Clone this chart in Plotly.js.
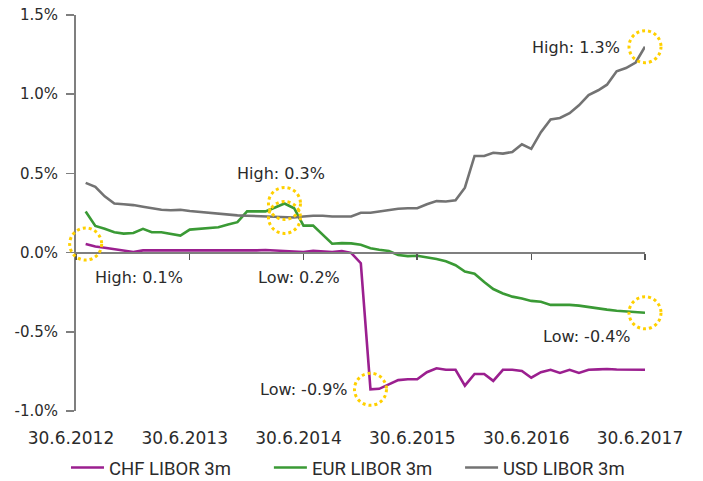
<!DOCTYPE html>
<html>
<head>
<meta charset="utf-8">
<script src="https://cdn.plot.ly/plotly-3.0.1.min.js"></script>
<style>html,body{margin:0;padding:0;background:#fff}#chart{width:703px;height:481px}</style>
</head>
<body>
<div id="chart"></div>
<script>
var dates = [
 '2012-07-31','2012-08-31','2012-09-30','2012-10-31','2012-11-30','2012-12-31',
 '2013-01-31','2013-02-28','2013-03-31','2013-04-30','2013-05-31','2013-06-30','2013-07-31','2013-08-31','2013-09-30','2013-10-31','2013-11-30','2013-12-31',
 '2014-01-31','2014-02-28','2014-03-31','2014-04-30','2014-05-31','2014-06-30','2014-07-31','2014-08-31','2014-09-30','2014-10-31','2014-11-30','2014-12-31',
 '2015-01-31','2015-02-28','2015-03-31','2015-04-30','2015-05-31','2015-06-30','2015-07-31','2015-08-31','2015-09-30','2015-10-31','2015-11-30','2015-12-31',
 '2016-01-31','2016-02-29','2016-03-31','2016-04-30','2016-05-31','2016-06-30','2016-07-31','2016-08-31','2016-09-30','2016-10-31','2016-11-30','2016-12-31',
 '2017-01-31','2017-02-28','2017-03-31','2017-04-30','2017-05-31','2017-06-30'
];
var chf = [
 0.054,0.038,0.031,0.021,0.016,0.004,0.014,0.014,0.013,0.013,
 0.013,0.013,0.013,0.015,0.013,0.011,0.015,0.012,0.014,0.016,
 0.012,0.010,0.008,0.004,0.012,0.010,0.004,0.010,-0.002,-0.067,
 -0.863,-0.860,-0.830,-0.805,-0.800,-0.800,-0.755,-0.730,-0.740,-0.740,
 -0.840,-0.766,-0.766,-0.810,-0.740,-0.740,-0.747,-0.790,-0.755,-0.740,
 -0.760,-0.740,-0.760,-0.740,-0.737,-0.735,-0.738,-0.740,-0.740,-0.740
];
var eur = [
 0.260,0.168,0.150,0.128,0.120,0.124,0.150,0.128,0.128,0.118,
 0.107,0.145,0.150,0.152,0.160,0.177,0.192,0.260,0.260,0.260,
 0.285,0.310,0.280,0.170,0.170,0.115,0.056,0.060,0.058,0.050,
 0.028,0.018,0.010,-0.015,-0.022,-0.020,-0.030,-0.040,-0.055,-0.080,
 -0.120,-0.133,-0.185,-0.230,-0.258,-0.278,-0.290,-0.305,-0.310,-0.330,
 -0.330,-0.330,-0.335,-0.345,-0.353,-0.360,-0.367,-0.372,-0.375,-0.380
];
var usd = [
 0.440,0.415,0.355,0.310,0.305,0.300,0.290,0.280,0.270,0.267,
 0.270,0.263,0.257,0.250,0.245,0.237,0.235,0.233,0.230,0.230,
 0.225,0.222,0.222,0.228,0.233,0.233,0.228,0.228,0.228,0.252,
 0.252,0.260,0.270,0.277,0.280,0.280,0.305,0.325,0.323,0.330,
 0.410,0.610,0.610,0.630,0.625,0.635,0.684,0.655,0.760,0.840,
 0.850,0.880,0.930,0.995,1.025,1.060,1.145,1.165,1.200,1.300
];
var seriesNames = ['CHF LIBOR 3m','EUR LIBOR 3m','USD LIBOR 3m'];
var seriesColors = ['#9b1f8f','#3a9a35','#737373'];
var xRange = ['2012-06-30','2017-06-30'];
var yRange = [-1.0, 1.5];
var xTickVals = ['2012-06-30','2013-06-30','2014-06-30','2015-06-30','2016-06-30','2017-06-30'];
var xTickText = ['30.6.2012','30.6.2013','30.6.2014','30.6.2015','30.6.2016','30.6.2017'];
var yTickVals = [-1.0,-0.5,0.0,0.5,1.0,1.5];
var yTickText = ['-1.0%','-0.5%','0.0%','0.5%','1.0%','1.5%'];
var labelTexts = ['High: 0.1%','High: 0.3%','Low: 0.2%','Low: -0.9%','Low: -0.4%','High: 1.3%'];

var series = [chf, eur, usd];
var legendIds = ['legend','legend2','legend3'];
var traces = series.map(function(s, k){
  return {x: dates, y: s, type: 'scatter', mode: 'lines', name: seriesNames[k],
    legend: legendIds[k],
    line: {color: seriesColors[k], width: 2.6}, hoverinfo: 'skip'};
});

var last = dates.length - 1;
var marks = [
  [chf, 0], [eur, 21], [usd, 21], [chf, 30], [eur, last], [usd, last]
];
var offsets = [
  {xa:'left', xs:7, ys:-33},
  {xa:'center', xs:-3, ys:30},
  {xa:'center', xs:15, ys:-60},
  {xa:'right', xs:-20, ys:0},
  {xa:'right', xs:-12, ys:-24},
  {xa:'right', xs:-23, ys:-1}
];
var t0 = Date.parse(xRange[0]), t1 = Date.parse(xRange[1]);
function xFrac(d){ return (Date.parse(d) - t0) / (t1 - t0); }
function yFrac(v){ return (v - yRange[0]) / (yRange[1] - yRange[0]); }
var shapes = marks.map(function(m){
  return {type:'circle', xref:'paper', yref:'paper', xsizemode:'pixel', ysizemode:'pixel',
    xanchor: xFrac(dates[m[1]]), yanchor: yFrac(m[0][m[1]]), x0:-16, x1:16, y0:-16, y1:16,
    line:{color:'#ffd000', width:3, dash:'dot'}, fillcolor:'rgba(0,0,0,0)', layer:'above'};
});
var annotations = marks.map(function(m, k){
  return {xref:'x', yref:'y', x: dates[m[1]], y: m[0][m[1]], text: labelTexts[k],
    showarrow:false, xanchor: offsets[k].xa, yanchor:'middle',
    xshift: offsets[k].xs, yshift: offsets[k].ys,
    font:{family:'DejaVu Sans', size:16, color:'#2b2b2b'}};
});

function legendAt(x){
  return {orientation:'h', x:x, xanchor:'left', y:-0.144, yanchor:'middle', itemwidth:33,
    font:{family:'Roboto', size:18.5, color:'#2b2b2b'}, bgcolor:'rgba(0,0,0,0)'};
}

var layout = {
  width: 703, height: 481,
  margin: {l:76, r:58, t:15, b:70, autoexpand:false},
  paper_bgcolor:'#fff', plot_bgcolor:'#fff',
  font: {family:'DejaVu Sans', color:'#2b2b2b'},
  showlegend: true,
  legend: legendAt(-0.0176),
  legend2: legendAt(0.339),
  legend3: legendAt(0.675),
  xaxis: {type:'date', range:xRange, tickvals:xTickVals, ticktext:xTickText,
    anchor:'free', position: yFrac(0),
    showline:true, linecolor:'#7f7f7f', linewidth:2, ticks:'outside', ticklen:6,
    tickwidth:1.5, tickcolor:'#555',
    showgrid:false, zeroline:false, fixedrange:true, automargin:false,
    tickfont:{size:17, color:'#2b2b2b'}, ticklabelshift:-5, ticklabelstandoff:164},
  yaxis: {range:yRange, tickvals:yTickVals, ticktext:yTickText, showline:true,
    linecolor:'#7f7f7f', linewidth:2, ticks:'outside', ticklen:8, tickwidth:1.5,
    tickcolor:'#7f7f7f', showgrid:false, zeroline:false, fixedrange:true, automargin:false,
    tickfont:{size:15, color:'#2b2b2b'}, ticklabelstandoff:5},
  shapes: shapes,
  annotations: annotations
};
Plotly.newPlot('chart', traces, layout, {displayModeBar:false, staticPlot:true});
</script>
</body>
</html>
